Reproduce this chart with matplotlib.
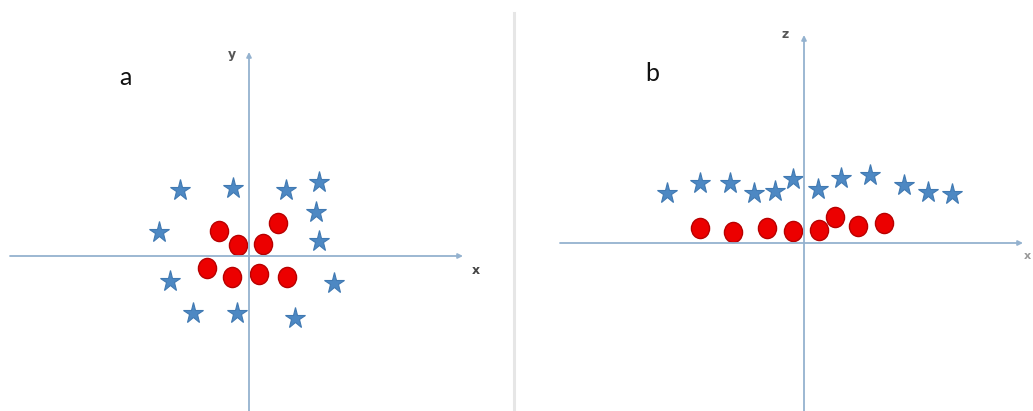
import matplotlib
matplotlib.use("Agg")
import matplotlib.pyplot as plt
from matplotlib.lines import Line2D
from matplotlib.path import Path
from matplotlib.transforms import Affine2D

# Panel a: (x, y) plane
a_star_x = [-6.9, -1.6, 3.7, 7.0, 6.7, -9.0, 7.0, -7.9, 8.5, -5.6, -1.2, 4.6]
a_star_y = [6.6, 6.8, 6.6, 7.4, 4.4, 2.4, 1.5, -2.5, -2.7, -5.7, -5.7, -6.2]
a_dot_x = [-3.0, -1.1, 1.4, 2.9, -4.2, -1.7, 1.0, 3.8]
a_dot_y = [2.5, 1.1, 1.2, 3.3, -1.2, -2.1, -1.8, -2.1]

# Panel b: (x, z) plane
b_star_x = [-13.7, -10.4, -7.4, -5.0, -2.9, -1.1, 1.4, 3.7, 6.6, 10.0, 12.4, 14.8]
b_star_z = [5.0, 6.0, 6.0, 5.0, 5.2, 6.4, 5.4, 6.5, 6.8, 5.8, 5.1, 4.9]
b_dot_x = [-10.4, -7.1, -3.7, -1.1, 1.5, 3.1, 5.4, 8.0]
b_dot_z = [1.5, 1.1, 1.5, 1.2, 1.3, 2.6, 1.7, 2.0]

panel_labels = ["a", "b"]
axis_names = [("x", "y"), ("x", "z")]

AXIS_COLOR = "#94b2cf"
STAR_FACE = "#4d88c3"
STAR_EDGE = "#4079b2"
DOT_FACE = "#ec0000"
DOT_EDGE = "#b80000"

W, H = 1033, 411
fig = plt.figure(figsize=(W / 100, H / 100), dpi=100)
fig.patch.set_facecolor("white")

ellipse = Path.unit_circle().transformed(Affine2D().scale(0.9, 1.0))


def draw_axes(ax, x0, x1, y0, y1):
    arrow = dict(arrowstyle="-|>", color=AXIS_COLOR, lw=1.3,
                 mutation_scale=7, shrinkA=0, shrinkB=0)
    ax.annotate("", xy=(x1, 0), xytext=(x0, 0), arrowprops=arrow)
    ax.annotate("", xy=(0, y1), xytext=(0, y0), arrowprops=arrow)


def setup(ax, xlim, ylim):
    ax.set_xlim(*xlim)
    ax.set_ylim(*ylim)
    ax.set_axis_off()


# Panel a
ax_a = fig.add_axes([0, 0, 514 / W, 1])
setup(ax_a, (-24.9, 26.5), (-15.5, 25.6))
draw_axes(ax_a, -23.9, 21.4, -16.0, 20.4)
ax_a.plot(a_star_x, a_star_y, ls="none", marker="*", ms=15.5,
          mfc=STAR_FACE, mec=STAR_EDGE, mew=0.8)
ax_a.plot(a_dot_x, a_dot_y, ls="none", marker=ellipse, ms=14.5,
          mfc=DOT_FACE, mec=DOT_EDGE, mew=1.0)
ax_a.text(-12.4, 17.9, panel_labels[0], fontsize=18, family="Lato",
          ha="center", va="center", color="#111111")
ax_a.text(-1.7, 20.2, axis_names[0][1], fontsize=9, fontweight="bold",
          ha="center", va="center", color="#555555")
ax_a.text(22.7, -1.5, axis_names[0][0], fontsize=9, fontweight="bold",
          ha="center", va="center", color="#444444")

# Panel b
ax_b = fig.add_axes([514 / W, 0, 519 / W, 1])
setup(ax_b, (-29.0, 22.9), (-16.8, 24.3))
draw_axes(ax_b, -24.4, 21.9, -17.5, 20.8)
ax_b.plot(b_star_x, b_star_z, ls="none", marker="*", ms=15.5,
          mfc=STAR_FACE, mec=STAR_EDGE, mew=0.8)
ax_b.plot(b_dot_x, b_dot_z, ls="none", marker=ellipse, ms=14.5,
          mfc=DOT_FACE, mec=DOT_EDGE, mew=1.0)
ax_b.text(-15.2, 17.0, panel_labels[1], fontsize=18, family="Lato",
          ha="center", va="center", color="#111111")
ax_b.text(-1.9, 20.9, axis_names[1][1], fontsize=9, fontweight="bold",
          ha="center", va="center", color="#555555")
ax_b.text(22.3, -1.3, axis_names[1][0], fontsize=8, fontweight="bold",
          ha="center", va="center", color="#999999")

# Divider between the panels
fig.add_artist(Line2D([514 / W, 514 / W], [0, (H - 13) / H],
                      transform=fig.transFigure, color="#e6e6e6", lw=2.2))

fig.savefig("out.png", dpi=100, facecolor="white")
